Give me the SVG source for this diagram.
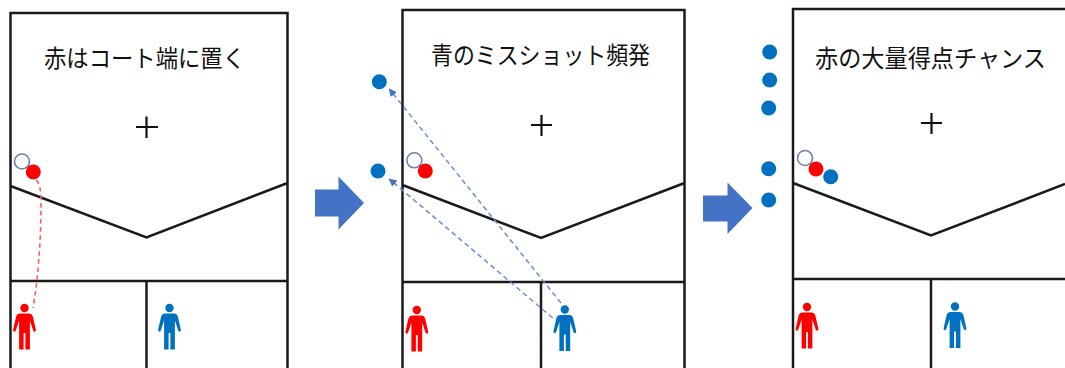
<svg xmlns="http://www.w3.org/2000/svg" xmlns:xlink="http://www.w3.org/1999/xlink" width="1065" height="368" viewBox="0 0 1065 368">
<style>
.court{fill:none;stroke:#1a1a1a;stroke-width:2.5}
.cross{fill:none;stroke:#111;stroke-width:2.2}
.title{font-family:"Noto Sans CJK JP","Noto Sans",sans-serif;font-size:24px;fill:#111}
.open{fill:#fff;stroke:#6b80ad;stroke-width:1.6}
.red{fill:#ff0000}
.blue{fill:#0070c0}
.block{fill:#4472c4}
.dashred{fill:none;stroke:#ff5c5c;stroke-width:1.6;stroke-dasharray:4.5 3.5}
.dashblue{fill:none;stroke:#6a8fd6;stroke-width:1.5;stroke-dasharray:5 3.5;marker-end:url(#tri)}
</style>
<defs>
<marker id="tri" viewBox="0 0 10 10" refX="9" refY="5" markerWidth="8" markerHeight="8" markerUnits="userSpaceOnUse" orient="auto"><path d="M0,0L10,5L0,10z" fill="#4472c4"/></marker>
<g id="person">
<circle cx="0" cy="0" r="4.200"/>
<path d="M-4.800,5.500H4.800Q7.500,5.500 8.300,8.200L11.400,21.800Q11.600,23.700 10,23.700Q8.900,23.700 8.600,22.300L5.400,12.500V41.500H0.900V25H-0.900V41.500H-5.400V12.500L-8.600,22.300Q-8.900,23.700 -10,23.700Q-11.600,23.700 -11.400,21.800L-8.300,8.200Q-7.500,5.500 -4.800,5.500Z"/>
</g>
</defs>
<g id="court-1">
<path class="court" d="M10.500,368V13H287.500V368M10.500,281H287.500M146.500,281V368M10.500,186L146.500,237.500L287.500,183"/>
<path class="cross" d="M136,127H158M146.500,116.500V138"/>
<text class="title" x="44" y="67" textLength="201" lengthAdjust="spacingAndGlyphs">赤はコート端に置く</text>
</g>
<g id="court-2">
<path class="court" d="M402.500,368V10H684.500V368M402.500,282H684.500M541,282V368M402.500,185L541,238L684.500,183"/>
<path class="cross" d="M531,125H552M541.500,115V136"/>
<text class="title" x="431" y="63.500" textLength="219" lengthAdjust="spacingAndGlyphs">青のミスショット頻発</text>
</g>
<g id="court-3">
<path class="court" d="M793,368V9H1065M793,279H1065M931,279V368M793,183L931,235.500L1065,184"/>
<path class="cross" d="M921,123H942M931.500,113V134"/>
<text class="title" x="815" y="66.500" textLength="231" lengthAdjust="spacingAndGlyphs">赤の大量得点チャンス</text>
</g>
<g id="arrow-1"><path class="block" d="M315,189.500H338.500V176.500L364,203L338.500,229.500V216.500H315Z"/></g>
<g id="arrow-2"><path class="block" d="M703,195.500H727.500V182.500L752.500,208L727.500,234V221.500H703Z"/></g>
<g id="connectors">
<path class="dashred" d="M36.500,180C41,186 41,195 41,205C41,240 38,280 33,308"/>
<path class="dashblue" d="M561,303L389.300,89"/>
<path class="dashblue" d="M552.700,318L389.300,179"/>
</g>
<g id="shuttle-1"><circle class="open" cx="22" cy="161.500" r="7.500"/><circle class="red" cx="33.300" cy="172" r="7.500"/></g>
<g id="shuttle-2"><circle class="open" cx="414.300" cy="160.300" r="7.500"/><circle class="red" cx="425.300" cy="171" r="7.500"/></g>
<g id="shuttle-3"><circle class="open" cx="805" cy="158" r="7.500"/><circle class="red" cx="816" cy="169" r="7.500"/><circle class="blue" cx="830.700" cy="176.700" r="7.500"/></g>
<g id="missed-2"><circle class="blue" cx="379.300" cy="81.700" r="7.500"/><circle class="blue" cx="378" cy="171" r="7.500"/></g>
<g id="missed-3"><circle class="blue" cx="769.700" cy="52" r="7.500"/><circle class="blue" cx="769.700" cy="80" r="7.500"/><circle class="blue" cx="768.700" cy="108" r="7.500"/><circle class="blue" cx="768.700" cy="168.800" r="7.500"/><circle class="blue" cx="768.700" cy="200" r="7.500"/></g>
<g id="player-red-1" class="red"><use xlink:href="#person" href="#person" x="24.500" y="308"/></g>
<g id="player-blue-1" class="blue"><use xlink:href="#person" href="#person" x="169.500" y="308"/></g>
<g id="player-red-2" class="red"><use xlink:href="#person" href="#person" x="416.800" y="310"/></g>
<g id="player-blue-2" class="blue"><use xlink:href="#person" href="#person" x="564.800" y="309.500"/></g>
<g id="player-red-3" class="red"><use xlink:href="#person" href="#person" x="807" y="307"/></g>
<g id="player-blue-3" class="blue"><use xlink:href="#person" href="#person" x="955" y="306.500"/></g>
</svg>
